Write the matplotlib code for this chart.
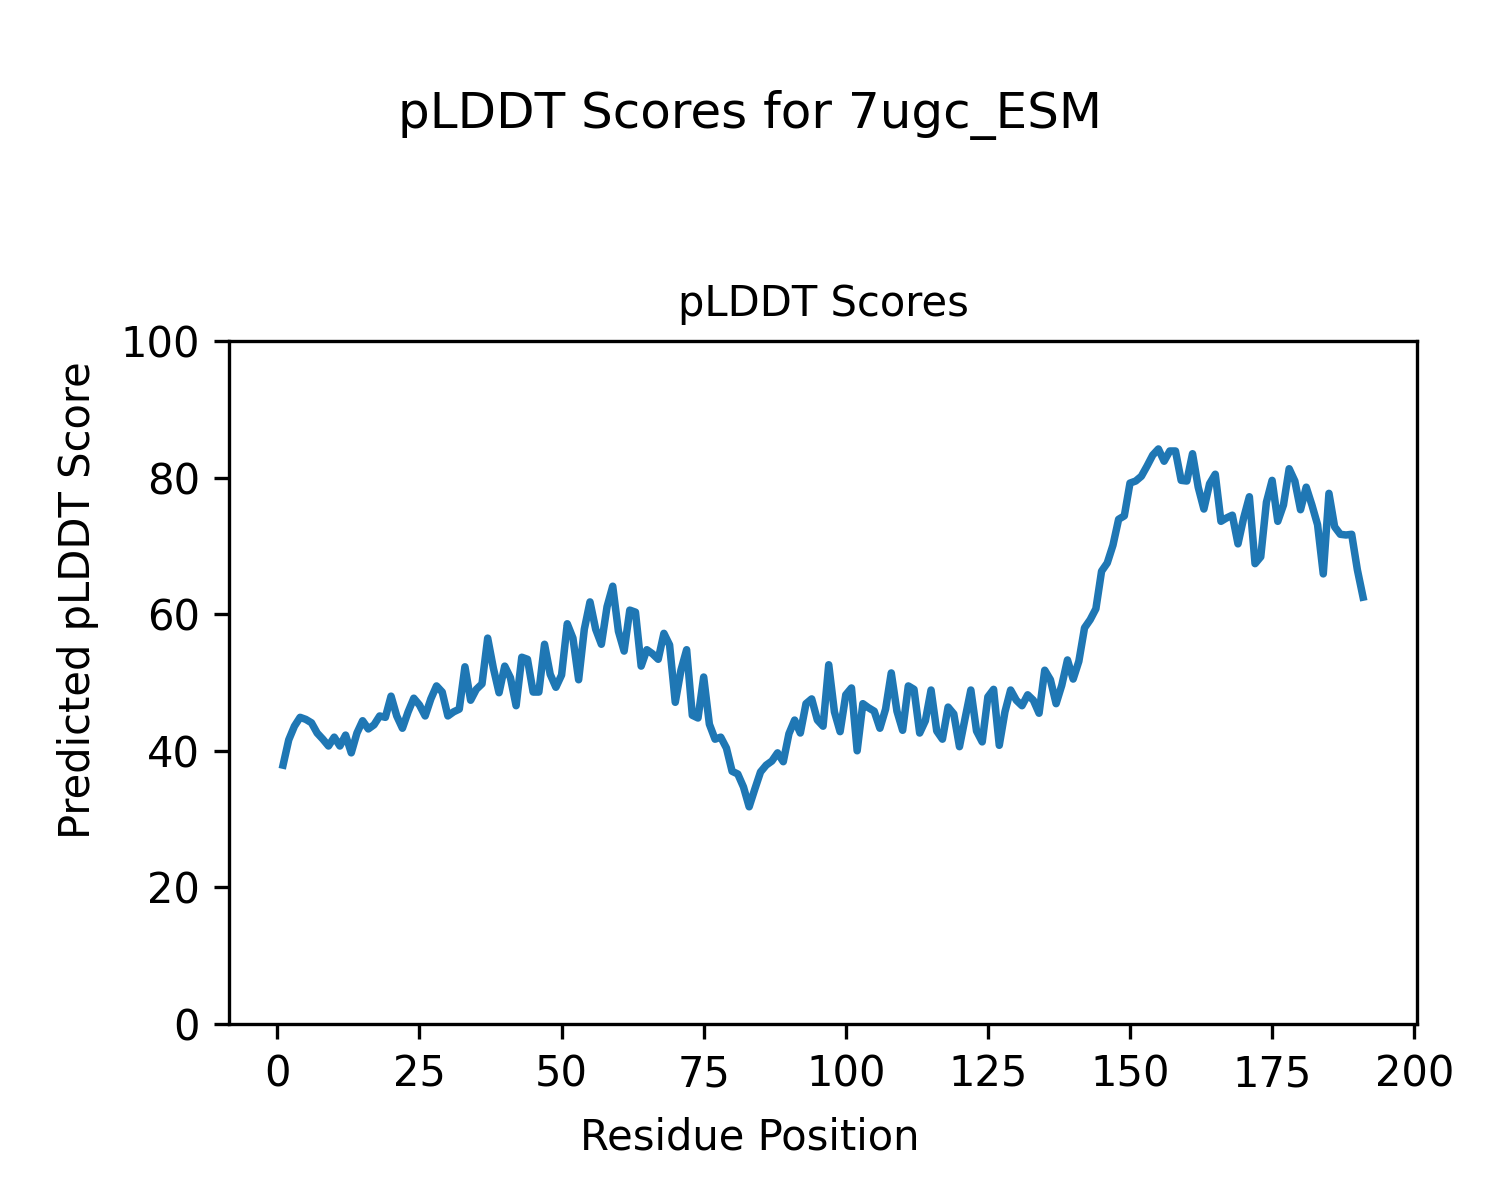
import matplotlib
matplotlib.use("Agg")
import matplotlib.pyplot as plt

positions = list(range(1, 192))
plddt = [
    37.9, 41.6, 43.6, 44.9, 44.6, 44.1, 42.6, 41.7, 40.7, 42.0,
    40.7, 42.3, 39.7, 42.6, 44.4, 43.2, 43.8, 45.1, 44.9, 48.0,
    45.1, 43.3, 45.7, 47.7, 46.7, 45.1, 47.6, 49.5, 48.6, 45.1,
    45.7, 46.1, 52.3, 47.4, 49.0, 49.8, 56.5, 52.1, 48.5, 52.4,
    50.7, 46.6, 53.7, 53.4, 48.6, 48.6, 55.6, 51.2, 49.3, 51.1,
    58.6, 56.5, 50.4, 57.8, 61.8, 57.8, 55.6, 61.1, 64.1, 57.5,
    54.6, 60.6, 60.3, 52.4, 54.8, 54.2, 53.4, 57.2, 55.5, 47.1,
    51.8, 54.8, 45.2, 44.8, 50.8, 43.9, 41.7, 42.0, 40.4, 37.0,
    36.6, 34.7, 31.8, 34.4, 36.9, 37.9, 38.5, 39.7, 38.4, 42.5,
    44.5, 42.6, 46.9, 47.6, 44.5, 43.6, 52.6, 45.7, 42.8, 48.2,
    49.2, 40.0, 46.9, 46.3, 45.8, 43.3, 46.1, 51.4, 45.8, 43.0,
    49.5, 49.0, 42.6, 44.4, 48.9, 42.9, 41.7, 46.4, 45.4, 40.6,
    44.8, 48.9, 42.9, 41.3, 47.9, 49.0, 40.8, 45.7, 48.9, 47.4,
    46.6, 48.2, 47.4, 45.5, 51.8, 50.4, 46.9, 49.6, 53.3, 50.5,
    53.1, 58.0, 59.2, 60.8, 66.3, 67.5, 70.1, 73.9, 74.4, 79.2,
    79.5, 80.2, 81.7, 83.3, 84.2, 82.4, 83.9, 83.9, 79.6, 79.5,
    83.5, 78.6, 75.4, 79.1, 80.5, 73.6, 74.1, 74.5, 70.3, 74.1,
    77.2, 67.4, 68.4, 76.4, 79.6, 73.6, 76.0, 81.3, 79.5, 75.3,
    78.6, 76.0, 73.1, 65.9, 77.7, 72.8, 71.7, 71.6, 71.7, 66.5,
    62.5,
]

fig = plt.figure(figsize=(5, 4), dpi=300)
fig.suptitle("pLDDT Scores for 7ugc_ESM", y=0.925)
ax = fig.add_axes([0.1527, 0.1467, 0.7920, 0.5691])
ax.plot(positions, plddt, color="#1f77b4", linewidth=1.8)
ax.set_ylim(0, 100)
ax.set_title("pLDDT Scores", fontsize=10)
fig.text(0.5, 0.0525, "Residue Position", ha="center", va="center", fontsize=10)
fig.text(0.052, 0.5, "Predicted pLDDT Score", ha="center", va="center",
         rotation=90, fontsize=10)
fig.savefig("out.png", dpi=300)
